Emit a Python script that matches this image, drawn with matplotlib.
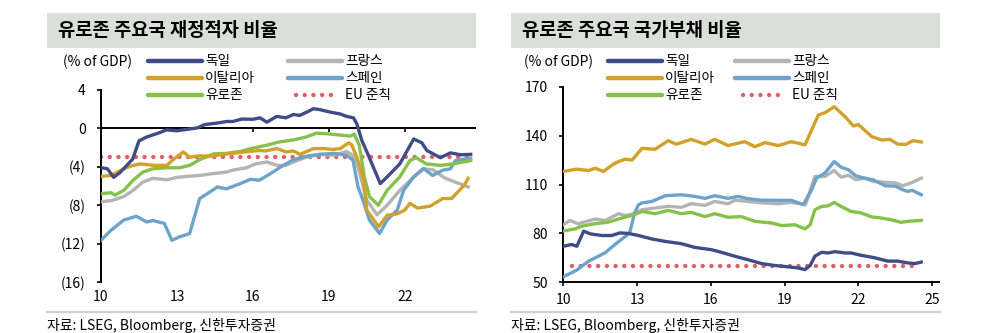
import matplotlib
matplotlib.use("Agg")
import matplotlib.pyplot as plt
from matplotlib.lines import Line2D
from matplotlib.patches import Rectangle

plt.rcParams['font.family'] = ['Noto Sans CJK KR', 'DejaVu Sans']

W, H = 989, 333

C_DE = '#3f4c88'
C_FR = '#b4b4b4'
C_IT = '#d2a12a'
C_ES = '#6ea3c9'
C_EZ = '#86c24a'
C_EU = '#e0606a'

# ====== Data: fiscal deficit (% of GDP) ======
de_def_x = [10.0, 10.25, 10.5, 10.75, 11.0, 11.25, 11.5, 11.8, 12.2, 12.6, 13.0, 13.4, 13.8, 14.1,
            14.57, 14.97, 15.2, 15.56, 16.0, 16.28, 16.55, 16.94, 17.3, 17.6, 17.85, 18.13, 18.39,
            18.65, 19.05, 19.45, 19.7, 19.97, 20.1, 20.3, 20.5, 21.03, 21.3, 21.8, 22.35, 22.67,
            22.87, 23.4, 23.8, 24.2, 24.6]
de_def_y = [-4.1, -4.2, -5.1, -4.6, -3.9, -3.2, -1.3, -0.9, -0.55, -0.15, -0.25, -0.1, 0.05, 0.4,
            0.55, 0.72, 0.72, 0.97, 0.95, 1.1, 0.65, 1.25, 1.1, 1.45, 1.35, 1.7, 2.05,
            1.95, 1.7, 1.5, 1.25, 1.1, 0.5, -1.25, -2.45, -5.75, -5.05, -3.7, -1.1, -1.5,
            -2.3, -3.05, -2.55, -2.75, -2.7]

it_def_x = [10.0, 10.4, 10.9, 11.2, 11.54, 12.1, 12.6, 12.85, 13.25, 13.5, 13.9, 14.3, 14.7, 15.2,
            15.7, 16.25, 16.5, 16.95, 17.3, 17.6, 17.85, 18.4, 18.8, 19.15, 19.45, 19.78, 19.9,
            20.1, 20.35, 20.5, 20.96, 21.3, 21.7, 22.0, 22.2, 22.5, 23.0, 23.5, 23.85, 24.1,
            24.35, 24.5]
it_def_y = [-5.0, -4.9, -4.2, -3.9, -3.7, -3.85, -3.85, -3.25, -2.45, -3.0, -2.85, -2.9, -2.75, -2.6,
            -2.45, -2.3, -2.35, -2.1, -2.45, -2.35, -2.7, -2.1, -2.1, -2.2, -2.1, -1.5, -1.7,
            -2.98, -5.05, -8.5, -10.25, -9.05, -8.9, -8.5, -7.8, -8.3, -8.1, -7.3, -7.3, -6.6,
            -5.9, -5.2]

fr_def_x = [10.0, 10.45, 10.9, 11.27, 11.65, 12.05, 12.6, 13.0, 13.4, 13.9, 14.45, 14.95, 15.2,
            15.75, 16.1, 16.55, 16.95, 17.3, 17.6, 18.1, 18.65, 19.2, 19.7, 19.95, 20.15, 20.5,
            20.9, 21.3, 21.8, 22.3, 22.7, 23.1, 23.6, 24.1, 24.5]
fr_def_y = [-7.65, -7.5, -7.1, -6.45, -5.6, -5.2, -5.35, -5.1, -5.0, -4.9, -4.7, -4.55, -4.35,
            -4.1, -3.7, -3.5, -3.85, -3.85, -3.5, -3.0, -2.7, -2.8, -2.4, -2.8, -4.0, -7.5,
            -9.0, -8.0, -6.45, -5.2, -4.2, -4.3, -5.2, -5.7, -6.1]

es_def_x = [10.0, 10.4, 10.9, 11.4, 11.8, 12.05, 12.5, 12.8, 13.1, 13.5, 13.8, 13.9, 14.2, 14.6,
            14.95, 15.5, 15.9, 16.25, 16.7, 17.05, 17.6, 18.1, 18.65, 19.2, 19.7, 19.95, 20.15,
            20.35, 20.6, 21.0, 21.3, 21.7, 21.95, 22.35, 22.75, 23.1, 23.5, 23.8, 24.0, 24.6]
es_def_y = [-11.65, -10.6, -9.55, -9.15, -9.75, -9.6, -9.9, -11.65, -11.3, -10.95, -8.2, -7.3, -6.8,
            -6.1, -6.3, -5.75, -5.3, -5.4, -4.7, -4.1, -3.25, -2.9, -2.7, -2.6, -2.8, -3.3, -6.1,
            -7.5, -9.55, -10.95, -9.55, -8.5, -6.45, -5.05, -4.2, -4.9, -4.35, -4.2, -3.35, -3.1]

ez_def_x = [10.0, 10.4, 10.55, 10.9, 11.27, 11.65, 12.05, 12.6, 13.1, 13.5, 13.9, 14.45, 14.95,
            15.5, 16.0, 16.55, 17.05, 17.6, 18.1, 18.5, 18.9, 19.45, 19.85, 20.0, 20.2, 20.4,
            20.6, 20.95, 21.3, 21.8, 22.2, 22.45, 22.85, 23.4, 23.9, 24.6]
ez_def_y = [-6.8, -6.7, -6.95, -6.45, -5.4, -4.55, -4.2, -4.1, -4.1, -3.85, -3.25, -2.65, -2.6,
            -2.4, -2.05, -1.75, -1.4, -1.2, -0.9, -0.5, -0.55, -0.7, -0.8, -0.6, -1.75, -5.05,
            -7.1, -8.0, -6.45, -5.05, -3.35, -3.05, -3.7, -3.85, -3.7, -3.35]

eu_def_x = [10.0, 24.6]
eu_def_y = [-3, -3]

# ====== Data: government debt (% of GDP) ======
de_debt_x = [10.0, 10.34, 10.55, 10.83, 11.1, 11.57, 11.97, 12.3, 12.65, 13.06, 13.6, 14.14, 14.8,
             15.35, 16.03, 16.43, 16.97, 17.5, 18.06, 18.6, 19.15, 19.55, 19.83, 20.04, 20.23,
             20.5, 20.77, 21.05, 21.46, 21.7, 22.1, 22.65, 23.2, 23.6, 24.0, 24.3, 24.56]
de_debt_y = [72.1, 73.2, 72.1, 81.4, 79.7, 78.7, 78.7, 80.3, 80.0, 78.7, 76.6, 75.1, 73.7,
             71.4, 70.0, 68.4, 66.0, 63.9, 61.5, 60.3, 59.5, 58.8, 57.8, 60.3, 66.0,
             68.4, 68.0, 68.8, 68.0, 68.0, 66.6, 65.1, 63.0, 63.0, 61.9, 61.5, 62.4]

fr_debt_x = [10.0, 10.27, 10.6, 11.3, 11.7, 12.25, 12.5, 12.9, 13.2, 13.73, 14.27, 14.8, 15.2,
             15.76, 16.16, 16.7, 17.0, 17.5, 18.06, 18.74, 19.28, 19.7, 19.85, 20.23, 20.64,
             21.02, 21.3, 21.6, 21.9, 22.25, 22.6, 23.1, 23.5, 23.8, 24.15, 24.56]
fr_debt_y = [85.3, 87.9, 85.9, 88.8, 87.9, 92.1, 91.0, 92.0, 94.5, 95.6, 96.6, 96.0, 98.2,
             97.2, 99.6, 98.2, 100.4, 99.6, 98.8, 98.2, 99.0, 98.2, 97.5, 114.9, 114.9,
             118.6, 114.5, 115.7, 112.9, 113.9, 111.9, 111.3, 111.0, 109.2, 111.0, 113.9]

es_debt_x = [10.0, 10.34, 10.55, 11.03, 11.43, 11.7, 12.1, 12.5, 12.7, 12.9, 13.06, 13.2, 13.6,
             14.14, 14.8, 15.35, 15.76, 16.16, 16.7, 17.1, 17.5, 18.06, 18.74, 19.28, 19.76,
             20.1, 20.3, 20.64, 21.02, 21.3, 21.6, 21.9, 22.25, 22.6, 23.1, 23.5, 23.8, 24.0,
             24.2, 24.56]
es_debt_y = [53.4, 55.9, 57.5, 63.0, 66.0, 68.1, 73.2, 77.9, 80.3, 92.6, 97.6, 98.7, 99.6,
             103.1, 103.7, 102.7, 101.5, 103.1, 101.5, 102.7, 101.3, 100.4, 100.3, 100.3, 97.6,
             106.8, 113.9, 117.0, 124.1, 120.6, 119.0, 115.3, 113.9, 112.9, 109.2, 109.0, 106.8,
             105.8, 106.4, 103.7]

it_debt_x = [10.0, 10.54, 11.03, 11.3, 11.63, 12.1, 12.5, 12.8, 13.2, 13.73, 14.27, 14.6, 15.2,
             15.76, 16.16, 16.7, 17.38, 17.79, 18.2, 18.74, 19.28, 19.83, 20.1, 20.37, 20.64,
             21.02, 21.46, 21.8, 22.0, 22.55, 22.95, 23.28, 23.6, 23.93, 24.22, 24.56]
it_debt_y = [118.0, 119.4, 118.6, 120.0, 118.0, 123.1, 125.5, 125.0, 132.2, 131.6, 136.9, 134.7,
             137.7, 134.8, 137.7, 133.9, 136.3, 133.2, 135.7, 133.9, 136.3, 134.3, 143.4, 152.6,
             154.0, 157.7, 151.6, 145.9, 146.8, 139.3, 137.3, 137.7, 134.8, 134.6, 136.9, 136.1]

ez_debt_x = [10.0, 10.48, 10.75, 11.3, 11.8, 12.4, 12.9, 13.2, 13.73, 14.27, 14.8, 15.2, 15.76,
             16.16, 16.7, 17.24, 17.79, 18.47, 18.88, 19.42, 19.83, 20.04, 20.23, 20.5, 20.77,
             21.02, 21.3, 21.7, 22.1, 22.55, 22.9, 23.3, 23.73, 24.07, 24.56]
ez_debt_y = [81.4, 82.8, 84.4, 86.0, 86.8, 89.5, 91.5, 93.5, 92.1, 94.1, 92.1, 92.9, 90.3,
             92.1, 89.9, 90.3, 87.4, 86.4, 84.8, 85.3, 82.8, 85.3, 94.5, 96.5, 96.9,
             99.0, 96.5, 93.5, 92.6, 90.1, 89.5, 88.5, 86.8, 87.5, 88.0]

eu_debt_x = [10.35, 24.3]
eu_debt_y = [60, 60]

labels = ['독일', '프랑스', '이탈리아', '스페인', '유로존', 'EU 준칙']
colors = [C_DE, C_FR, C_IT, C_ES, C_EZ, C_EU]
def_ticks = [4, 0, -4, -8, -12, -16]
def_ticklabels = ['4', '0', '(4)', '(8)', '(12)', '(16)']
debt_ticks = [50, 80, 110, 140, 170]

LW = 2.4
DOT = dict(color=C_EU, lw=3.2, linestyle=(0, (0.01, 1.95)), dash_capstyle='round')


def fx(px):
    return px / W


def fy(py):
    return 1 - py / H


fig = plt.figure(figsize=(W / 100, H / 100), dpi=100)


def frame(x0, x1, title):
    fig.add_artist(Rectangle((fx(x0), fy(48)), (x1 - x0) / W, 35 / H, transform=fig.transFigure,
                             facecolor='#dcdedb', edgecolor='none', zorder=0))
    fig.text(fx(x0 + 11), fy(31), title, fontsize=13.5, fontweight='bold', va='center', ha='left')
    fig.add_artist(Line2D([fx(x0), fx(x1)], [fy(312), fy(312)], color='#cfcfcf', lw=1.6))
    fig.text(fx(x0), fy(318), '자료: LSEG, Bloomberg, 신한투자증권', fontsize=10, va='top', ha='left')


def legend(px_unit, col1, col2):
    fig.text(fx(px_unit), fy(62), '(% of GDP)', fontsize=10, va='center', ha='left')
    rows = [61, 78, 95]
    pos = [(col1, rows[0]), (col2, rows[0]), (col1, rows[1]), (col2, rows[1]),
           (col1, rows[2]), (col2, rows[2])]
    for i, (lab, c) in enumerate(zip(labels, colors)):
        x0, y = pos[i]
        if lab == 'EU 준칙':
            fig.add_artist(Line2D([fx(x0 + 8), fx(x0 + 50)], [fy(y), fy(y)], transform=fig.transFigure,
                                  **DOT))
        else:
            fig.add_artist(Line2D([fx(x0), fx(x0 + 54)], [fy(y), fy(y)], transform=fig.transFigure,
                                  color=c, lw=3.2, solid_capstyle='round'))
        fig.text(fx(x0 + 57), fy(y), lab, fontsize=9.8, va='center', ha='left')


# ====== Left: deficit ======
ax1 = fig.add_axes([fx(101), fy(282), (475 - 101) / W, (282 - 90) / H])
ax1.plot(eu_def_x, eu_def_y, zorder=2, **DOT)
ax1.plot(fr_def_x, fr_def_y, color=C_FR, lw=LW, zorder=3)
ax1.plot(es_def_x, es_def_y, color=C_ES, lw=LW, zorder=4)
ax1.plot(ez_def_x, ez_def_y, color=C_EZ, lw=LW, zorder=5)
ax1.plot(it_def_x, it_def_y, color=C_IT, lw=LW, zorder=6)
ax1.plot(de_def_x, de_def_y, color=C_DE, lw=LW, zorder=7)
ax1.set_xlim(10, 24.77)
ax1.set_ylim(-16, 4)
ax1.spines['top'].set_visible(False)
ax1.spines['right'].set_visible(False)
ax1.spines['bottom'].set_position(('data', 0))
ax1.spines['bottom'].set_linewidth(1.4)
ax1.spines['left'].set_linewidth(1.4)
ax1.set_xticks([10, 13, 16, 19, 22])
ax1.tick_params(axis='x', labelbottom=False, length=3, width=1.2, direction='out')
ax1.set_yticks(def_ticks)
ax1.set_yticklabels(def_ticklabels)
ax1.tick_params(axis='y', length=3, width=1.2, direction='out', labelsize=10, pad=8)
sec1 = ax1.secondary_xaxis('bottom')
sec1.set_xticks([10, 13, 16, 19, 22])
sec1.spines['bottom'].set_visible(False)
sec1.tick_params(length=0, labelsize=10, pad=6)

# ====== Right: debt ======
ax2 = fig.add_axes([fx(563.3), fy(282.3), (939 - 563.3) / W, (282.3 - 86.7) / H])
ax2.plot(eu_debt_x, eu_debt_y, zorder=2, **DOT)
ax2.plot(fr_debt_x, fr_debt_y, color=C_FR, lw=LW, zorder=3)
ax2.plot(es_debt_x, es_debt_y, color=C_ES, lw=LW, zorder=4)
ax2.plot(ez_debt_x, ez_debt_y, color=C_EZ, lw=LW, zorder=5)
ax2.plot(it_debt_x, it_debt_y, color=C_IT, lw=LW, zorder=6)
ax2.plot(de_debt_x, de_debt_y, color=C_DE, lw=LW, zorder=7)
ax2.set_xlim(10, 25.28)
ax2.set_ylim(50, 170)
ax2.spines['top'].set_visible(False)
ax2.spines['right'].set_visible(False)
ax2.spines['bottom'].set_linewidth(1.4)
ax2.spines['left'].set_linewidth(1.4)
ax2.set_xticks([10, 13, 16, 19, 22, 25])
ax2.set_yticks(debt_ticks)
ax2.tick_params(axis='x', length=3, width=1.2, direction='out', labelsize=10, pad=5)
ax2.tick_params(axis='y', length=3, width=1.2, direction='out', labelsize=10, pad=8)

for ax in (ax1, ax2):
    ax.patch.set_alpha(0)

frame(47, 476, '유로존 주요국 재정적자 비율')
frame(511, 940, '유로존 주요국 국가부채 비율')
legend(63, 148, 288)
legend(524, 608, 735)

fig.savefig('out.png', dpi=100)
